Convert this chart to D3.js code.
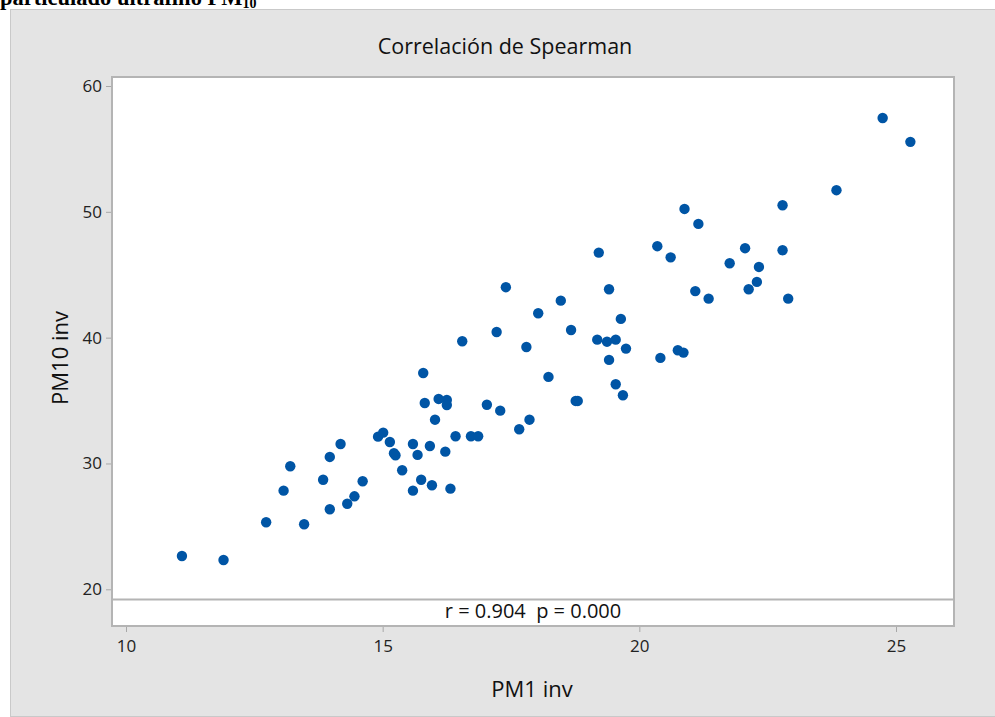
<!DOCTYPE html>
<html>
<head>
<meta charset="utf-8">
<script src="https://cdn.jsdelivr.net/npm/d3@7"></script>
<style>
  body { margin: 0; background: #fff; }
  svg { display: block; }
</style>
</head>
<body>
<div id="chart"></div>
<script>
// data
var pm1 = [11.09, 11.90, 12.73, 13.07, 13.20, 13.47, 13.84, 13.97, 13.97, 14.18,
           14.31, 14.45, 14.61, 14.91, 15.01, 15.14, 15.22, 15.25, 15.38, 15.59,
           15.68, 15.75, 15.59, 15.96, 15.92, 16.22, 16.32, 16.42, 16.72, 16.86,
           15.79, 15.82, 16.02, 16.09, 16.25, 16.25, 16.55, 17.03, 17.22, 17.29,
           17.40, 17.66, 17.80, 17.86, 18.03, 18.23, 18.47, 18.67, 18.76, 18.80,
           19.18, 19.21, 19.37, 19.41, 19.41, 19.54, 19.54, 19.64, 19.68, 19.74,
           20.35, 20.41, 20.61, 20.75, 20.86, 20.88, 21.09, 21.15, 21.35, 21.76,
           22.06, 22.13, 22.29, 22.33, 22.79, 22.79, 22.90, 23.84, 24.74, 25.28];
var pm10 = [22.65, 22.33, 25.33, 27.84, 29.78, 25.17, 28.71, 30.52, 26.36, 31.55,
            26.80, 27.39, 28.59, 32.13, 32.45, 31.71, 30.81, 30.65, 29.46, 31.55,
            30.68, 28.71, 27.84, 28.27, 31.39, 30.94, 28.00, 32.16, 32.16, 32.16,
            37.19, 34.81, 33.48, 35.13, 35.05, 34.65, 39.71, 34.67, 40.45, 34.20,
            44.01, 32.72, 39.26, 33.48, 41.94, 36.88, 42.94, 40.61, 34.97, 34.97,
            39.84, 46.76, 39.68, 43.85, 38.23, 39.84, 36.30, 41.49, 35.42, 39.13,
            47.27, 38.39, 46.38, 39.00, 38.81, 50.23, 43.70, 49.04, 43.10, 45.91,
            47.11, 43.85, 44.43, 45.62, 50.52, 46.95, 43.10, 51.72, 57.46, 55.56];
var xTicks = [10, 15, 20, 25];
var yTicks = [20, 30, 40, 50, 60];
var statText = "r = 0.904  p = 0.000";

var width = 995, height = 717;
var font = "'Open Sans', 'Noto Sans', sans-serif";

// plot frame (pixels)
var plotLeft = 112, plotRight = 954, plotTop = 77, plotBottom = 626, sepY = 599.5;

var svg = d3.select("#chart").append("svg")
    .attr("width", width)
    .attr("height", height);

// cut-off caption line from the document above
var cap = svg.append("text")
    .attr("x", 0)
    .attr("y", 5)
    .attr("font-family", "'Liberation Serif', serif")
    .attr("font-weight", "bold")
    .attr("font-size", 22.5)
    .attr("fill", "#000");
cap.append("tspan").text("particulado ultrafino PM");
cap.append("tspan").attr("font-size", 14).attr("dy", 3).text("10");

// gray panel
svg.append("rect")
    .attr("x", 10.5).attr("y", 9.5)
    .attr("width", width - 10).attr("height", height - 10)
    .attr("fill", "#e4e4e4")
    .attr("stroke", "#c9c9c9");

var x = d3.scaleLinear().domain([10, 25]).range([126, 896]);
var y = d3.scaleLinear().domain([20, 60]).range([589.3, 86]);

// white plot area
svg.append("rect")
    .attr("x", plotLeft).attr("y", plotTop)
    .attr("width", plotRight - plotLeft).attr("height", plotBottom - plotTop)
    .attr("fill", "#fff")
    .attr("stroke", "#b4b4b4")
    .attr("stroke-width", 2);

// separator above the stats line
svg.append("line")
    .attr("x1", plotLeft).attr("x2", plotRight)
    .attr("y1", sepY).attr("y2", sepY)
    .attr("stroke", "#b4b4b4")
    .attr("stroke-width", 2);

svg.append("text")
    .attr("x", (plotLeft + plotRight) / 2)
    .attr("y", 618)
    .attr("text-anchor", "middle")
    .attr("font-family", font)
    .attr("font-size", 20)
    .attr("fill", "#111")
    .style("white-space", "pre")
    .text(statText);

// axes
var xAxis = svg.append("g")
    .attr("transform", "translate(0," + (plotBottom + 1) + ")")
    .call(d3.axisBottom(x).tickValues(xTicks).tickSize(5).tickPadding(8));

var yAxis = svg.append("g")
    .attr("transform", "translate(" + (plotLeft - 1) + ",0)")
    .call(d3.axisLeft(y).tickValues(yTicks).tickSize(5).tickPadding(4));

[xAxis, yAxis].forEach(function(g) {
  g.select(".domain").remove();
  g.selectAll(".tick line").attr("stroke", "#a8a8a8");
  g.selectAll(".tick text")
    .attr("font-family", font)
    .attr("font-size", 17)
    .attr("fill", "#222");
});

// title and axis labels
svg.append("text")
    .attr("x", 505).attr("y", 54)
    .attr("text-anchor", "middle")
    .attr("font-family", font)
    .attr("font-size", 21.5)
    .attr("fill", "#111")
    .text("Correlación de Spearman");

svg.append("text")
    .attr("x", 532)
    .attr("y", 697)
    .attr("text-anchor", "middle")
    .attr("font-family", font)
    .attr("font-size", 22)
    .attr("fill", "#111")
    .text("PM1 inv");

svg.append("text")
    .attr("transform", "translate(68," + 358 + ") rotate(-90)")
    .attr("text-anchor", "middle")
    .attr("font-family", font)
    .attr("font-size", 22)
    .attr("fill", "#111")
    .text("PM10 inv");

// points
svg.append("g")
  .selectAll("circle")
  .data(d3.zip(pm1, pm10))
  .enter()
  .append("circle")
    .attr("cx", function(d) { return x(d[0]); })
    .attr("cy", function(d) { return y(d[1]); })
    .attr("r", 5.2)
    .attr("fill", "#0055a5");
</script>
</body>
</html>
